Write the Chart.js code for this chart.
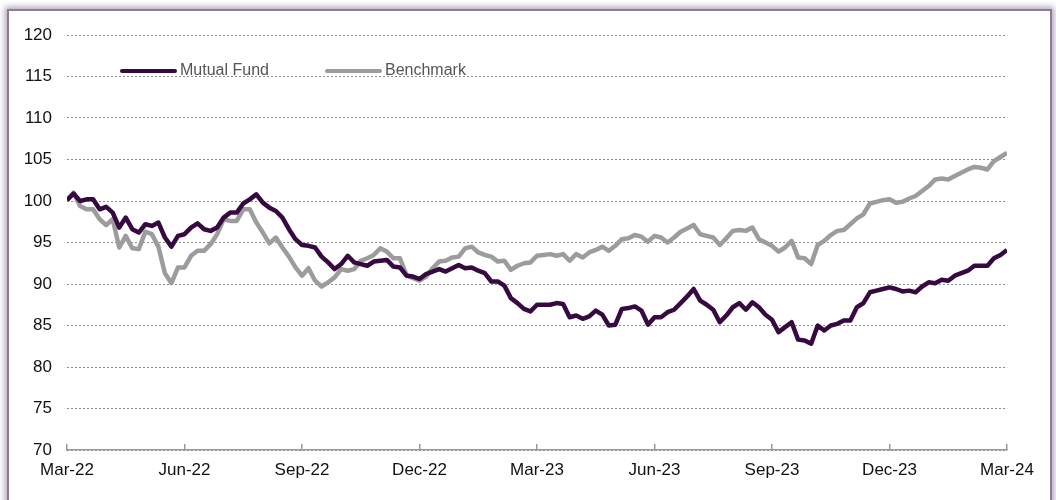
<!DOCTYPE html>
<html>
<head>
<meta charset="utf-8">
<script src="https://cdn.jsdelivr.net/npm/chart.js@4.4.1/dist/chart.umd.min.js"></script>
<style>
  html, body { margin: 0; padding: 0; background: #fff; overflow: hidden; }
  body { width: 1056px; height: 500px; position: relative; }
  .card {
    position: absolute; left: 7px; top: 9px; width: 1041px; height: 600px;
    background: #fff; border: 2px solid #8f7b96;
    box-shadow: 0 0 6px 2px rgba(120, 100, 130, 0.6);
  }
  #chart { position: absolute; left: 0; top: 0; }
</style>
</head>
<body>
<div class="card"></div>
<canvas id="chart" width="1056" height="500"></canvas>
<script>
// ============================================================================
// Data (6 readings per month, Mar-22 .. Mar-24, rebased to 100)
// ============================================================================

const POINTS_PER_MONTH = 6;

const tickLabels = ['Mar-22', 'Jun-22', 'Sep-22', 'Dec-22', 'Mar-23', 'Jun-23', 'Sep-23', 'Dec-23', 'Mar-24'];

const seriesNames = ['Mutual Fund', 'Benchmark'];

const mutualFund = [
  100.1, 100.9, 100.0, 100.2, 100.2, 99.0, 99.3, 98.6, 96.8, 98.0,
  96.6, 96.2, 97.2, 97.0, 97.4, 95.6, 94.5, 95.8, 96.0, 96.8,
  97.3, 96.6, 96.4, 96.8, 98.0, 98.6, 98.6, 99.7, 100.2, 100.8,
  99.8, 99.2, 98.8, 98.0, 96.6, 95.4, 94.7, 94.6, 94.4, 93.3,
  92.6, 91.8, 92.4, 93.4, 92.6, 92.4, 92.2, 92.7, 92.8, 92.9,
  92.1, 92.0, 91.0, 90.9, 90.6, 91.2, 91.5, 91.8, 91.5, 91.9,
  92.3, 91.9, 92.0, 91.6, 91.3, 90.3, 90.3, 89.8, 88.3, 87.7,
  87.0, 86.7, 87.5, 87.5, 87.5, 87.7, 87.6, 86.0, 86.2, 85.8,
  86.1, 86.8, 86.3, 85.0, 85.1, 87.0, 87.1, 87.3, 86.8, 85.1,
  86.0, 86.0, 86.6, 86.9, 87.7, 88.5, 89.4, 88.0, 87.5, 86.9,
  85.4, 86.2, 87.2, 87.7, 86.9, 87.8, 87.2, 86.3, 85.7, 84.2,
  84.8, 85.4, 83.3, 83.2, 82.8, 85.0, 84.4, 85.0, 85.2, 85.6,
  85.6, 87.2, 87.7, 89.0, 89.2, 89.4, 89.6, 89.4, 89.1, 89.2,
  89.0, 89.7, 90.2, 90.1, 90.5, 90.4, 91.0, 91.3, 91.6, 92.2,
  92.2, 92.2, 93.1, 93.5, 94.1
];

const benchmark = [
  100.1, 101.0, 99.4, 99.0, 99.0, 97.8, 97.1, 97.8, 94.4, 95.8,
  94.3, 94.2, 96.3, 96.0, 94.5, 91.3, 90.1, 92.0, 92.0, 93.4,
  94.0, 94.0, 94.8, 96.0, 97.8, 97.6, 97.6, 99.0, 99.0, 97.4,
  96.2, 94.9, 95.6, 94.4, 93.3, 92.0, 91.0, 91.9, 90.4, 89.7,
  90.2, 90.8, 91.8, 91.6, 91.8, 92.8, 93.1, 93.5, 94.3, 93.9,
  93.1, 93.1, 91.1, 90.7, 90.4, 90.9, 91.9, 92.7, 92.8, 93.2,
  93.3, 94.3, 94.5, 93.8, 93.5, 93.3, 92.7, 92.8, 91.7, 92.2,
  92.5, 92.6, 93.4, 93.5, 93.6, 93.4, 93.6, 92.8, 93.6, 93.2,
  93.8, 94.1, 94.5, 94.0, 94.6, 95.4, 95.5, 95.9, 95.7, 95.1,
  95.8, 95.6, 95.0, 95.6, 96.3, 96.7, 97.1, 96.0, 95.8, 95.6,
  94.7, 95.5, 96.4, 96.5, 96.4, 96.8, 95.4, 95.0, 94.6, 93.9,
  94.4, 95.2, 93.2, 93.1, 92.4, 94.7, 95.2, 95.9, 96.4, 96.5,
  97.2, 97.9, 98.4, 99.7, 99.9, 100.1, 100.2, 99.8, 99.9, 100.3,
  100.6, 101.2, 101.8, 102.6, 102.7, 102.6, 103.0, 103.4, 103.8, 104.1,
  104.0, 103.8, 104.8, 105.3, 105.8
];

// ============================================================================
// Theme
// ============================================================================

const colors = {
  fund: '#360a40',
  bench: '#9c9c9c',
  grid: '#8c8c8c',
  axis: '#9a9a9a',
  text: '#111111',
  legendText: '#555555',
};

const FONT = "'Liberation Sans', Arial, Helvetica, sans-serif";

const toPoints = (values) => values.map((v, i) => ({ x: i, y: v }));

// Legend drawn inside the plot area, like the original
const insideLegend = {
  id: 'insideLegend',
  afterDraw(chart) {
    const { ctx, chartArea } = chart;
    const offsets = [55, 260];
    const y = chartArea.top + 36;
    ctx.save();
    ctx.font = '16px ' + FONT;
    ctx.textBaseline = 'middle';
    ctx.textAlign = 'left';
    chart.data.datasets.forEach((ds, i) => {
      const x0 = chartArea.left + offsets[i];
      ctx.strokeStyle = ds.borderColor;
      ctx.lineWidth = 4;
      ctx.lineCap = 'round';
      ctx.beginPath();
      ctx.moveTo(x0, y);
      ctx.lineTo(x0 + 53, y);
      ctx.stroke();
      ctx.fillStyle = colors.legendText;
      ctx.fillText(ds.label, x0 + 58, y);
    });
    ctx.restore();
  },
};

const ctx = document.getElementById('chart').getContext('2d');

new Chart(ctx, {
  type: 'line',
  data: {
    datasets: [
      {
        label: seriesNames[0],
        data: toPoints(mutualFund),
        borderColor: colors.fund,
        backgroundColor: colors.fund,
        borderWidth: 4.5,
        pointRadius: 0,
        tension: 0,
        borderJoinStyle: 'round',
      },
      {
        label: seriesNames[1],
        data: toPoints(benchmark),
        borderColor: colors.bench,
        backgroundColor: colors.bench,
        borderWidth: 4.5,
        pointRadius: 0,
        tension: 0,
        borderJoinStyle: 'round',
      },
    ],
  },
  options: {
    responsive: false,
    animation: false,
    layout: { padding: { top: 35, right: 49, left: 0, bottom: 0 } },
    plugins: {
      legend: { display: false },
      tooltip: { enabled: false },
    },
    scales: {
      x: {
        type: 'linear',
        min: 0,
        max: (tickLabels.length - 1) * 3 * POINTS_PER_MONTH,
        afterFit: (scale) => { scale.height = 50; },
        afterBuildTicks: (scale) => {
          scale.ticks = tickLabels.map((_, i) => ({ value: i * 3 * POINTS_PER_MONTH }));
        },
        ticks: {
          autoSkip: false,
          maxRotation: 0,
          padding: 16,
          color: colors.text,
          font: { family: FONT, size: 17 },
          callback: (value) => tickLabels[Math.round(value / (3 * POINTS_PER_MONTH))],
        },
        grid: {
          drawOnChartArea: false,
          drawTicks: true,
          tickLength: -6,
          color: colors.axis,
          lineWidth: 1.5,
        },
        border: { display: true, color: colors.axis, width: 1.5 },
      },
      y: {
        min: 70,
        max: 120,
        afterFit: (scale) => { scale.width = 67; },
        ticks: {
          stepSize: 5,
          padding: 15,
          color: colors.text,
          font: { family: FONT, size: 17 },
        },
        grid: {
          drawTicks: false,
          color: colors.grid,
          lineWidth: 1,
        },
        border: { display: false, dash: [2, 2] },
      },
    },
  },
  plugins: [insideLegend],
});
</script>
</body>
</html>
